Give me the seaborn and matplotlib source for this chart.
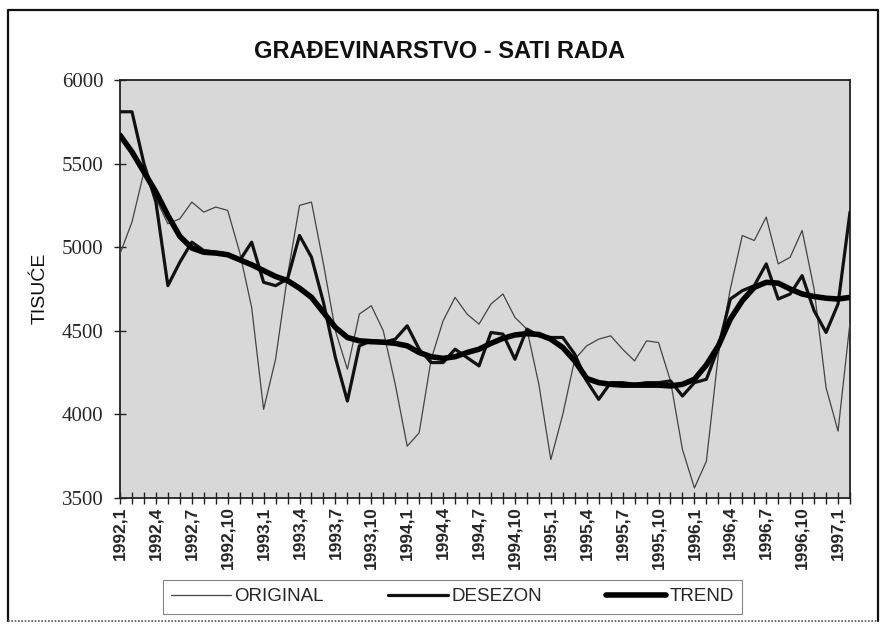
import matplotlib
matplotlib.use("Agg")
import matplotlib.pyplot as plt
from matplotlib import font_manager
from matplotlib.lines import Line2D
from matplotlib.ticker import MultipleLocator
import seaborn as sns
import pandas as pd

# ---------------- data ----------------
TICK_LABELS = ["1992,1", "1992,4", "1992,7", "1992,10",
               "1993,1", "1993,4", "1993,7", "1993,10",
               "1994,1", "1994,4", "1994,7", "1994,10",
               "1995,1", "1995,4", "1995,7", "1995,10",
               "1996,1", "1996,4", "1996,7", "1996,10",
               "1997,1"]

ORIGINAL = [4960, 5150, 5450, 5290, 5140, 5170, 5270, 5210, 5240, 5220,
            4970, 4640, 4030, 4330, 4830, 5250, 5270, 4900, 4500, 4270,
            4600, 4650, 4500, 4180, 3810, 3890, 4330, 4560, 4700, 4600,
            4540, 4660, 4720, 4580, 4510, 4180, 3730, 4000, 4330, 4410,
            4450, 4470, 4390, 4320, 4440, 4430, 4200, 3790, 3560, 3720,
            4360, 4750, 5070, 5040, 5180, 4900, 4940, 5100, 4750, 4160,
            3900, 4550]

DESEZON = [5810, 5810, 5500, 5270, 4770, 4910, 5030, 4980, 4970, 4960,
           4920, 5030, 4790, 4770, 4810, 5070, 4940, 4670, 4340, 4080,
           4410, 4440, 4430, 4450, 4530, 4390, 4310, 4310, 4390, 4340,
           4290, 4490, 4480, 4330, 4510, 4470, 4460, 4460, 4360, 4200,
           4090, 4190, 4190, 4180, 4190, 4190, 4200, 4110, 4190, 4210,
           4400, 4690, 4740, 4770, 4900, 4690, 4720, 4830, 4620, 4490,
           4660, 5210]

TREND = [5670, 5570, 5450, 5330, 5190, 5065, 4995, 4970, 4965, 4955,
         4925, 4895, 4860, 4825, 4800, 4755, 4700, 4610, 4520, 4460,
         4440, 4435, 4432, 4425, 4410, 4370, 4345, 4335, 4345, 4370,
         4390, 4425, 4455, 4475, 4483, 4478, 4450, 4400, 4320, 4215,
         4190, 4180, 4175, 4175, 4175, 4175, 4170, 4180, 4210, 4296,
         4410, 4570, 4680, 4760, 4790, 4785, 4750, 4720, 4705, 4695,
         4690, 4700]

SERIES_NAMES = ["ORIGINAL", "DESEZON", "TREND"]
Y_TICKS = [3500, 4000, 4500, 5000, 5500, 6000]

# ---------------- style ----------------
sns.set_theme(style="white")
names = {f.name for f in font_manager.fontManager.ttflist}
NARROW = "Liberation Sans Narrow" if "Liberation Sans Narrow" in names else "Liberation Sans"
SANS = "Liberation Sans"
SERIF = "Liberation Serif"
plt.rcParams["font.family"] = [NARROW, "DejaVu Sans"]

W, H = 885, 629
fig = plt.figure(figsize=(W / 100, H / 100), dpi=100)
fig.patch.set_facecolor("white")

ax = fig.add_axes([120 / W, 1 - 498 / H, 730 / W, 418 / H])
ax.set_facecolor("#d8d8d8")

n = len(ORIGINAL)
df = pd.DataFrame({"idx": list(range(n)), "ORIGINAL": ORIGINAL,
                   "DESEZON": DESEZON, "TREND": TREND})

styles = {"ORIGINAL": dict(color="#444444", lw=0.9),
          "DESEZON": dict(color="#111111", lw=2.3),
          "TREND": dict(color="#000000", lw=4.0)}
for name in SERIES_NAMES:
    sns.lineplot(data=df, x="idx", y=name, ax=ax, color=styles[name]["color"],
                 linewidth=styles[name]["lw"], legend=False, zorder=3)

ax.set_xlim(0, n - 1)
ax.set_ylim(Y_TICKS[0], Y_TICKS[-1])
ax.set_xlabel("")
ax.set_ylabel("")

ax.xaxis.set_minor_locator(MultipleLocator(1))
ax.set_xticks(list(range(0, 3 * len(TICK_LABELS), 3)))
ax.set_xticklabels(TICK_LABELS, rotation=90, fontsize=12.5,
                   family=[SANS, "DejaVu Sans"], fontweight="bold")
ax.set_yticks(Y_TICKS)
ax.set_yticklabels([str(v) for v in Y_TICKS], fontsize=15,
                   family=[SERIF, "DejaVu Serif"])
ax.tick_params(axis="x", which="both", direction="inout", length=8, width=1,
               color="#222222", pad=2, bottom=True)
ax.tick_params(axis="y", which="major", direction="inout", length=8, width=1,
               color="#222222", pad=8, left=True)
for s in ax.spines.values():
    s.set_color("#222222")
    s.set_linewidth(1.3)

# title and axis label
fig.text(440 / W, 1 - 52 / H, "GRAĐEVINARSTVO - SATI RADA", ha="center",
         va="center", fontsize=17, fontweight="bold", color="#111111")
fig.text(40 / W, 1 - 288 / H, "TISUĆE", rotation=90, ha="center",
         va="center", fontsize=14, color="#111111")

# legend
handles = [Line2D([], [], color=styles[nm]["color"], lw=styles[nm]["lw"])
           for nm in SERIES_NAMES]
leg = fig.legend(handles, SERIES_NAMES, loc="center",
                 bbox_to_anchor=(163 / W, 1 - 615 / H, 579 / W, 37 / H),
                 mode="expand", ncol=3, frameon=True, fancybox=False,
                 handlelength=3.2, handletextpad=0.15, borderpad=0.45,
                 borderaxespad=0.0,
                 prop={"family": [NARROW, "DejaVu Sans"], "size": 13.5})
leg.get_frame().set_edgecolor("#666666")
leg.get_frame().set_linewidth(0.8)

# outer frame
fx0, fx1, fy0, fy1 = 8 / W, 878 / W, 1 - 621 / H, 1 - 10 / H
fig.add_artist(Line2D([fx0, fx0, fx1, fx1], [fy0, fy1, fy1, fy0],
                      transform=fig.transFigure, color="#111111", lw=1.6))
fig.add_artist(Line2D([fx0, fx1], [fy0, fy0], transform=fig.transFigure,
                      color="#555555", lw=1.2, ls=(0, (1, 1))))

fig.savefig("out.png", dpi=100)
